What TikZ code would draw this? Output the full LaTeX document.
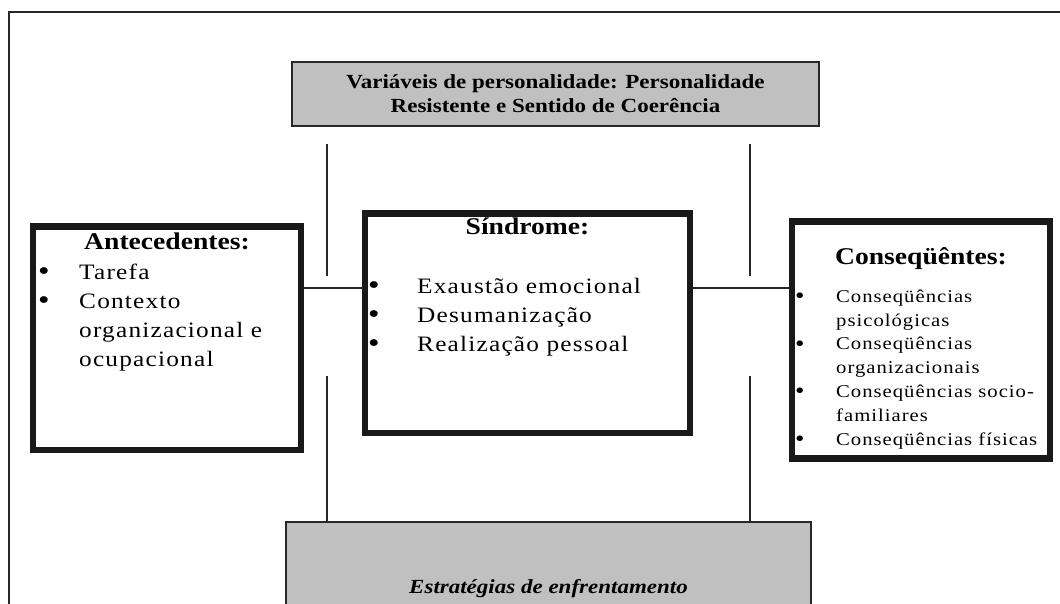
\documentclass[tikz,border=0pt]{standalone}
\usepackage{fontspec}
\setmainfont{Liberation Serif}[FakeStretch=1.15]
\newfontfamily\listfont{Liberation Serif}[FakeStretch=1.15,LetterSpace=5.5]
\usetikzlibrary{positioning,calc}
\definecolor{boxgray}{RGB}{192,192,192}
\definecolor{linegray}{RGB}{40,40,40}
\newcommand{\bul}[1]{\makebox[#1][l]{\raisebox{-0.08em}{\scalebox{1.3}{\textbullet}}}}

\begin{document}
\begin{tikzpicture}[x=1pt, y=-1pt,
    frame/.style={draw=linegray, line width=1.8pt},
    greybox/.style={rectangle, draw=linegray, line width=1.5pt, fill=boxgray, align=center, inner sep=0pt},
    heavybox/.style={rectangle, draw=black!90, line width=6.5pt, inner sep=0pt},
    head/.style={font=\fontsize{24}{29}\selectfont\bfseries, inner sep=0pt, anchor=base},
    items/.style={align=left, inner sep=0pt, anchor=base west, font=\listfont\fontsize{22}{29}\selectfont},
    smallitems/.style={items, font=\listfont\fontsize{18}{23.8}\selectfont},
    link/.style={draw=linegray, line width=1.5pt}
]
    \useasboundingbox (0,0) rectangle (1060,603);
    \clip (0,0) rectangle (1060,603);
    \draw[frame] (9,12) rectangle (1080,640);

    % boxes
    \node[greybox, minimum width=527pt, minimum height=64pt, font=\fontsize{20}{24}\selectfont\bfseries] (pers) at (555.5,94)
        {Variáveis de personalidade: Personalidade\\Resistente e Sentido de Coerência};
    \node[heavybox, minimum width=268pt, minimum height=223.5pt] (ante) at (167,338.25) {};
    \node[heavybox, minimum width=325pt, minimum height=219.5pt] (sind) at (527.5,323.25) {};
    \node[heavybox, minimum width=258pt, minimum height=237pt] (cons) at (921,340) {};
    \node[greybox, minimum width=525pt, minimum height=134pt, anchor=north, font=\fontsize{20}{24}\selectfont\bfseries\itshape] (estr) at (548.5,521)
        {Estratégias de enfrentamento};

    % headings and lists (lists sit on their last baseline)
    \node[head] (antehead) at ([yshift=-26.5pt]ante.north) {Antecedentes:};
    \node[head] (sindhead) at ([yshift=-24.5pt]sind.north) {Síndrome:};
    \node[head] (conshead) at ([yshift=-46.5pt]cons.north) {Conseqüêntes:};
    \node[items] (antelist) at (38,366)
        {\bul{41pt}Tarefa\\\bul{41pt}Contexto\\\hspace*{41pt}organizacional e\\\hspace*{41pt}ocupacional};
    \node[items] (sindlist) at (368,351)
        {\bul{49pt}Exaustão emocional\\\bul{49pt}Desumanização\\\bul{49pt}Realização pessoal};
    \node[smallitems] (conslist) at (795,445)
        {\bul{41pt}Conseqüências\\\hspace*{41pt}psicológicas\\\bul{41pt}Conseqüências\\\hspace*{41pt}organizacionais\\
         \bul{41pt}Conseqüências socio-\\\hspace*{41pt}familiares\\\bul{41pt}Conseqüências físicas};

    % connectors
    \coordinate (rowy) at (0,288);
    \coordinate (upl) at (327,144);
    \coordinate (upr) at (750,144);
    \coordinate (lowl) at (327,376);
    \coordinate (lowr) at (750,376);
    \draw[link] (ante.east |- rowy) -- (sind.west |- rowy);
    \draw[link] (sind.east |- rowy) -- (cons.west |- rowy);
    \draw[link, shorten >=12pt] (upl) -- (upl |- rowy);
    \draw[link, shorten >=12pt] (upr) -- (upr |- rowy);
    \draw[link] (lowl) -- (lowl |- estr.north);
    \draw[link] (lowr) -- (lowr |- estr.north);
\end{tikzpicture}
\end{document}
